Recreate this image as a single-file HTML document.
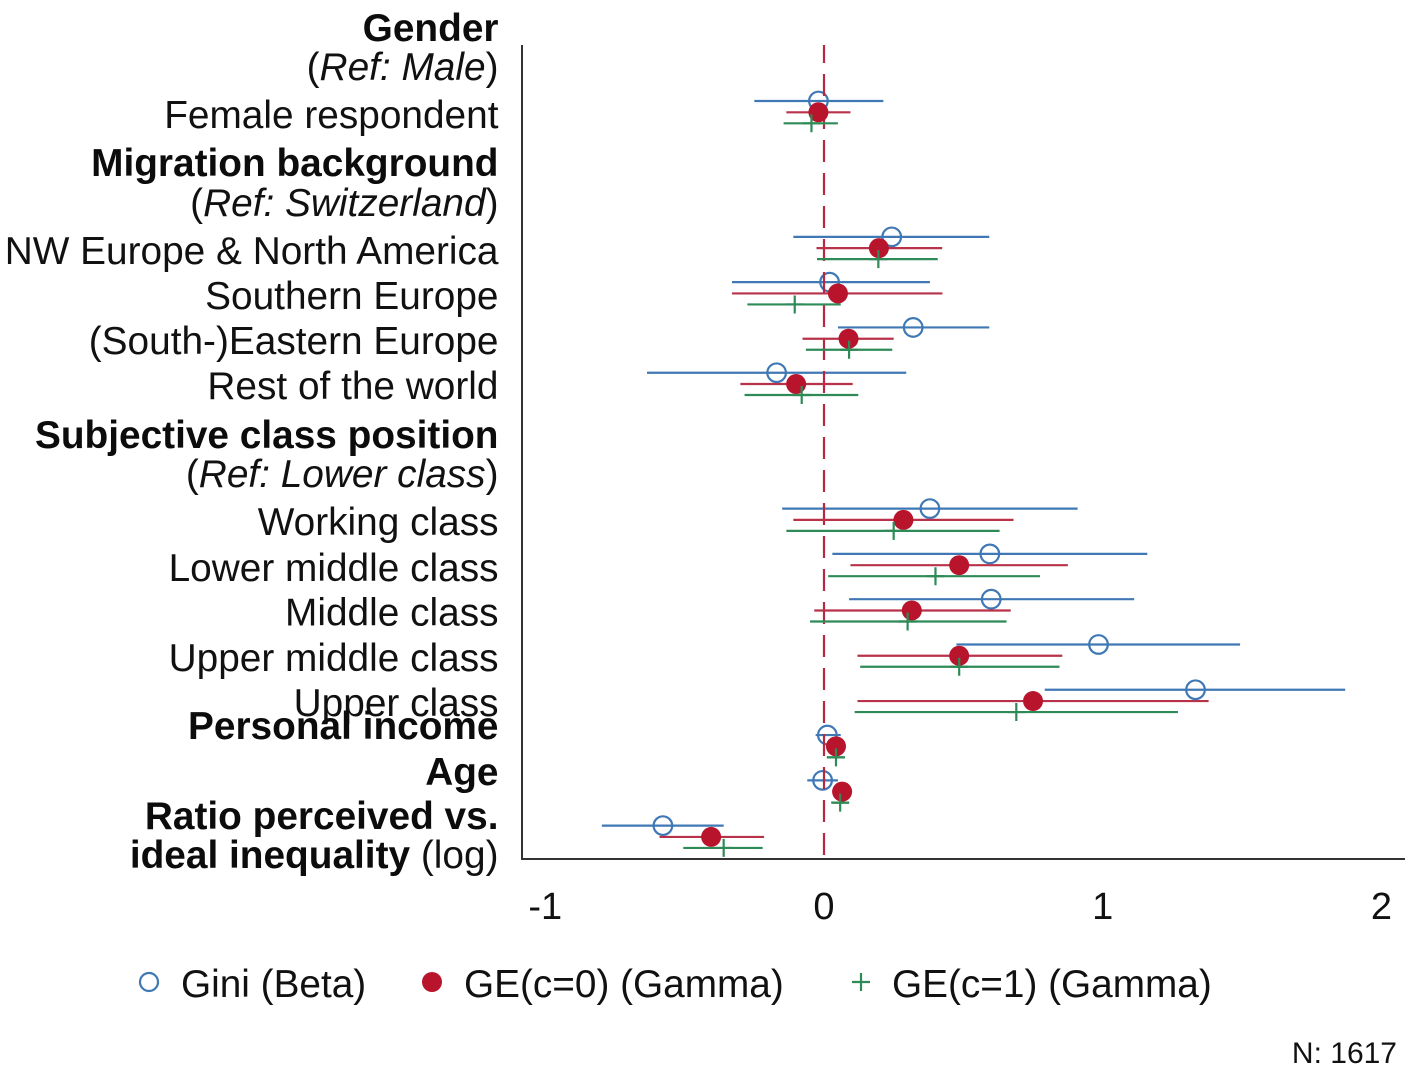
<!DOCTYPE html>
<html lang="en">
<head>
<meta charset="utf-8">
<title>Coefficient plot</title>
<style>
  html, body { margin: 0; padding: 0; background: #fff; }
  svg { display: block; font-family: "Liberation Sans", sans-serif; fill: #111; filter: blur(0.35px); }
  .lab { font-size: 38.8px; text-anchor: end; fill: #111; }
  .bold { font-weight: bold; fill: #0c0c0c; }
  .tick { font-size: 38px; text-anchor: middle; fill: #111; }
  .leg { font-size: 38.75px; fill: #111; }
</style>
</head>
<body>
<svg id="chart" xmlns="http://www.w3.org/2000/svg" width="1417" height="1079" viewBox="0 0 1417 1079">
  <rect x="0" y="0" width="1417" height="1079" fill="#ffffff"/>
  <g>
    <text class="lab bold" x="498.5" y="41">Gender</text>
    <text class="lab" x="498.5" y="80">(<tspan font-style="italic">Ref: Male</tspan>)</text>
    <text class="lab" x="498.5" y="128">Female respondent</text>
    <text class="lab bold" x="498.5" y="176">Migration background</text>
    <text class="lab" x="498.5" y="216">(<tspan font-style="italic">Ref: Switzerland</tspan>)</text>
    <text class="lab" x="498.5" y="264">NW Europe &amp; North America</text>
    <text class="lab" x="498.5" y="309">Southern Europe</text>
    <text class="lab" x="498.5" y="354">(South-)Eastern Europe</text>
    <text class="lab" x="498.5" y="399">Rest of the world</text>
    <text class="lab bold" x="498.5" y="448">Subjective class position</text>
    <text class="lab" x="498.5" y="487">(<tspan font-style="italic">Ref: Lower class</tspan>)</text>
    <text class="lab" x="498.5" y="535">Working class</text>
    <text class="lab" x="498.5" y="581">Lower middle class</text>
    <text class="lab" x="498.5" y="625.5">Middle class</text>
    <text class="lab" x="498.5" y="671">Upper middle class</text>
    <text class="lab" x="498.5" y="716">Upper class</text>
    <text class="lab bold" x="498.5" y="739">Personal income</text>
    <text class="lab bold" x="498.5" y="785">Age</text>
    <text class="lab bold" x="498.5" y="829">Ratio perceived vs.</text>
    <text class="lab" x="498.5" y="868"><tspan font-weight="bold" fill="#0c0c0c">ideal inequality</tspan> (log)</text>
  </g>
  <g id="marks"></g>
  <line x1="522" y1="45" x2="522" y2="860" stroke="#333" stroke-width="2"/>
  <line x1="521" y1="859" x2="1405" y2="859" stroke="#333" stroke-width="2"/>
  <g id="ticks"></g>
  <g>
    <circle cx="149" cy="982" r="9" fill="none" stroke="#3f78b5" stroke-width="2.2"/>
    <text class="leg" x="181" y="997">Gini (Beta)</text>
    <circle cx="432" cy="982" r="10" fill="#b8152d"/>
    <text class="leg" x="464" y="997">GE(c=0) (Gamma)</text>
    <path d="M852 982H870M861 973V991" fill="none" stroke="#2e8b57" stroke-width="2.2"/>
    <text class="leg" x="892" y="997">GE(c=1) (Gamma)</text>
  </g>
  <text x="1397" y="1063" font-size="30" text-anchor="end" fill="#111">N: 1617</text>
</svg>
<script>
// Rows run top to bottom; null marks header rows without estimates.
const categories = ["Ref: Male","Female respondent","Migration background","Ref: Switzerland","NW Europe & North America","Southern Europe","(South-)Eastern Europe","Rest of the world","Subjective class position","Ref: Lower class","Working class","Lower middle class","Middle class","Upper middle class","Upper class","Personal income","Age","Ratio perceived vs. ideal inequality"];
const xTickValues = [-1, 0, 1, 2];
const xTickLabels = ["-1", "0", "1", "2"];

const giniEst = [null,-0.02,null,null,0.243,0.02,0.32,-0.17,null,null,0.38,0.595,0.60,0.985,1.333,0.012,-0.005,-0.578];
const giniLow = [null,-0.25,null,null,-0.11,-0.33,0.05,-0.635,null,null,-0.15,0.03,0.09,0.475,0.792,-0.03,-0.06,-0.797];
const giniHigh = [null,0.213,null,null,0.593,0.38,0.593,0.295,null,null,0.91,1.16,1.113,1.493,1.87,0.06,0.05,-0.36];

const ge0Est = [null,-0.02,null,null,0.197,0.05,0.088,-0.10,null,null,0.285,0.485,0.315,0.485,0.75,0.043,0.065,-0.405];
const ge0Low = [null,-0.135,null,null,-0.027,-0.33,-0.077,-0.30,null,null,-0.11,0.095,-0.035,0.12,0.12,0.015,0.03,-0.59];
const ge0High = [null,0.095,null,null,0.424,0.425,0.25,0.103,null,null,0.68,0.875,0.67,0.855,1.38,0.07,0.095,-0.215];

const ge1Est = [null,-0.045,null,null,0.195,-0.105,0.09,-0.08,null,null,0.25,0.40,0.30,0.485,0.69,0.043,0.058,-0.36];
const ge1Low = [null,-0.145,null,null,-0.025,-0.275,-0.065,-0.285,null,null,-0.135,0.015,-0.05,0.13,0.11,0.01,0.03,-0.505];
const ge1High = [null,0.05,null,null,0.408,0.06,0.245,0.123,null,null,0.63,0.775,0.655,0.845,1.27,0.07,0.09,-0.22];

const NS = "http://www.w3.org/2000/svg";
const marks = document.getElementById("marks");
const ticks = document.getElementById("ticks");

function xScale(v) { return 824 + v * 278.7; }
function yScale(row) { return 67 + row * 45.29; }

function make(tag, attrs, parent) {
  const el = document.createElementNS(NS, tag);
  for (const k in attrs) el.setAttribute(k, attrs[k]);
  parent.appendChild(el);
  return el;
}

function drawSeries(prefix, est, low, high, offset, color, markerKind) {
  est.forEach(function (v, i) {
    if (v === null) return;
    const y = yScale(i) + offset;
    const bar = make("line", { x1: xScale(low[i]), x2: xScale(high[i]), y1: y, y2: y, stroke: color, "stroke-width": 2.2 }, marks);
    
    
    bar.setAttribute('aria-label', prefix + ' ' + categories[i]);
    let m;
    if (markerKind === "open") {
      m = make("circle", { cx: xScale(v), cy: y, r: 9.3, fill: "none", stroke: color, "stroke-width": 2.2 }, marks);
    } else if (markerKind === "solid") {
      m = make("circle", { cx: xScale(v), cy: y, r: 10, fill: "#b8152d" }, marks);
    } else {
      m = make("path", { d: "M" + (xScale(v) - 9) + " " + y + "h18M" + xScale(v) + " " + (y - 9) + "v18", fill: "none", stroke: color, "stroke-width": 2.2 }, marks);
    }
    
    
    m.setAttribute('aria-label', prefix + ' ' + categories[i]);
  });
}

drawSeries("Gini", giniEst, giniLow, giniHigh, -11.3, "#3f78b5", "open");

const refLine = make("line", { x1: xScale(0), x2: xScale(0), y1: 45, y2: 859, stroke: "#b5283f", "stroke-width": 2.2, "stroke-dasharray": "22 11", "stroke-dashoffset": 4 }, marks);



drawSeries("GE(c=0)", ge0Est, ge0Low, ge0High, 0, "#b8324a", "solid");
drawSeries("GE(c=1)", ge1Est, ge1Low, ge1High, 11, "#2e8b57", "plus");

xTickValues.forEach(function (v, i) {
  const t = make("text", { x: xScale(v), y: 919, "class": "tick" }, ticks);
  
  
  t.textContent = xTickLabels[i];
});
</script>
</body>
</html>
